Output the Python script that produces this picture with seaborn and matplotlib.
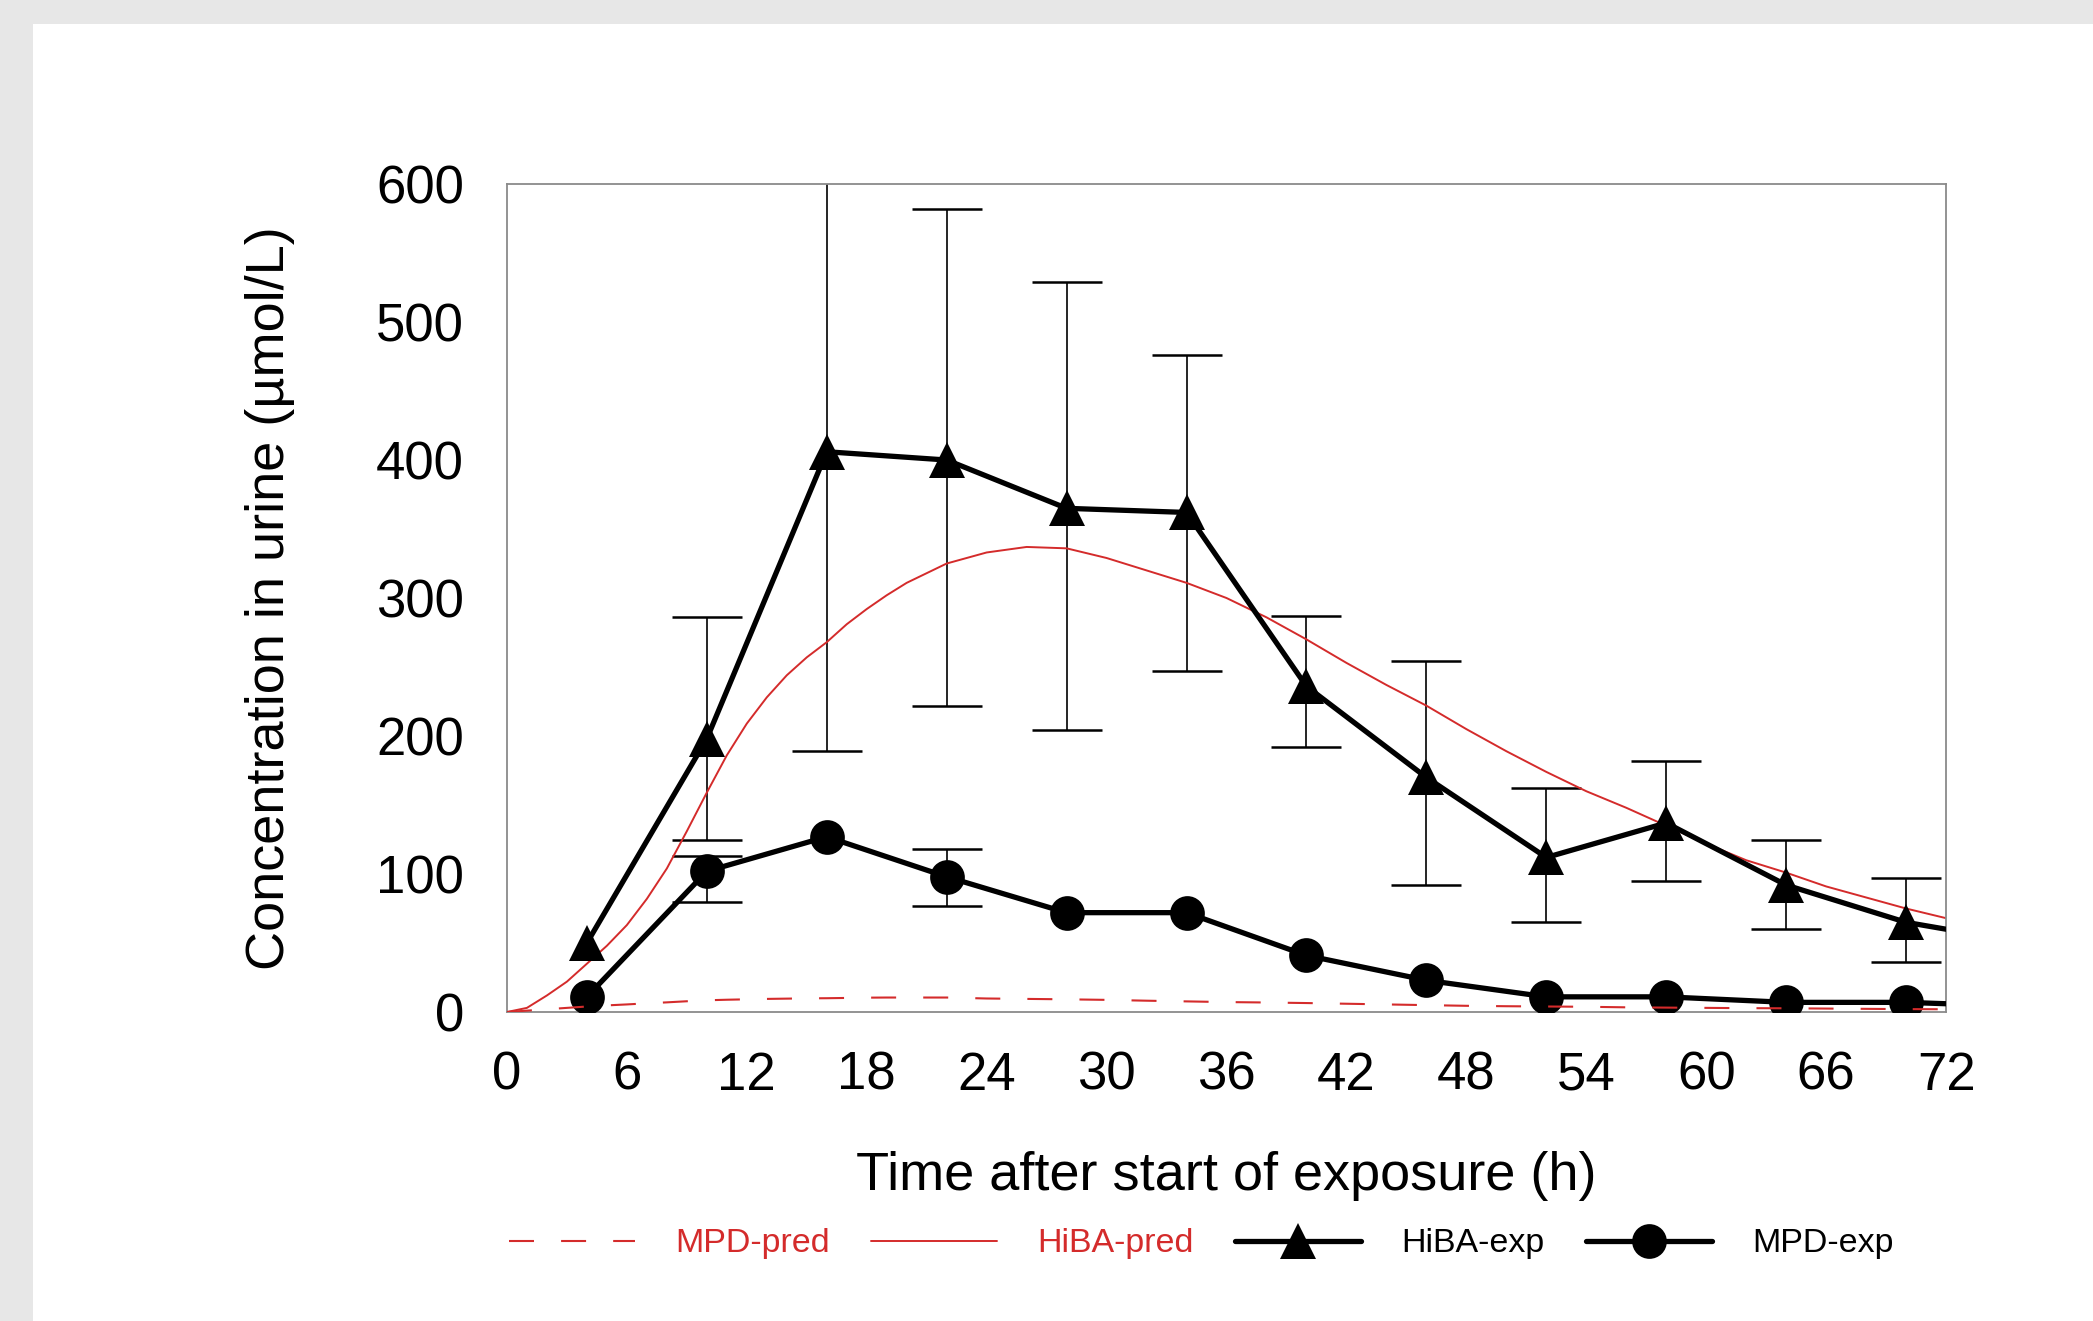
import numpy as np
import pandas as pd
import matplotlib.pyplot as plt
import seaborn as sns
from matplotlib.patches import Rectangle

# tempos de coleta (h) e concentracoes medidas na urina
tempo_exp = [4, 10, 16, 22, 28, 34, 40, 46, 52, 58, 64, 70]
hiba_exp = [50, 198, 406, 400, 365, 362, 236, 170, 112, 137, 92, 65]
mpd_exp = [11, 102, 127, 98, 72, 72, 41, 23, 11, 11, 7, 7]

# a linha continua ate o fim do eixo (72 h)
tempo_fim = [70, 72]
hiba_fim = [65, 60]
mpd_fim = [7, 6]

# limites das barras de erro (superior / inferior)
tempo_err_hiba = [10, 16, 22, 28, 34, 40, 46, 52, 58, 64, 70]
hiba_sup = [286, 623, 582, 529, 476, 287, 254, 162, 182, 125, 97]
hiba_inf = [125, 189, 222, 204, 247, 192, 92, 65, 95, 60, 36]

tempo_err_mpd = [10, 22]
mpd_sup = [113, 118]
mpd_inf = [80, 77]

# curvas preditas pelo modelo
tempo_pred = [0, 1, 2, 3, 4, 5, 6, 7, 8, 9, 10, 11, 12, 13, 14, 15, 16, 17, 18, 19, 20, 22, 24, 26, 28,
              30, 32, 34, 36, 38, 40, 42, 44, 46, 48, 50, 52, 54, 56, 58, 60, 62, 64, 66, 68, 70, 72]
hiba_pred = [0, 3, 12, 22, 35, 48, 63, 82, 104, 131, 159, 186, 209, 228, 244, 257, 268, 281, 292, 302,
             311, 325, 333, 337, 336, 329, 320, 311, 300, 286, 270, 253, 237, 222, 205, 189, 174, 160,
             148, 135, 122, 110, 101, 91, 83, 75, 68]
mpd_pred = [0, 1, 2, 3, 4, 4.8, 5.5, 6.3, 7, 7.8, 8.5, 8.9, 9.2, 9.5, 9.7, 9.9, 10, 10.2, 10.4, 10.5,
            10.5, 10.5, 9.8, 9.5, 9.2, 8.8, 8.2, 7.7, 7.2, 6.9, 6.5, 6, 5.5, 5, 4.5, 4.2, 4, 3.8, 3.4,
            3.2, 3, 2.8, 2.7, 2.5, 2.3, 2.1, 2]

xticks = list(range(0, 73, 6))
yticks = list(range(0, 601, 100))

vermelho = '#d42b2b'

sns.set_theme(style="white")
plt.rcParams['font.family'] = ['Liberation Sans', 'DejaVu Sans']
plt.rcParams['text.color'] = 'black'
plt.rcParams['axes.labelcolor'] = 'black'

fig = plt.figure(figsize=(20.93, 13.21), dpi=100, facecolor='#e7e7e7')
fundo = Rectangle((33 / 2093, 0), 1, 1 - 24 / 1321, transform=fig.transFigure,
                  facecolor='white', edgecolor='none', zorder=-10)
fig.add_artist(fundo)
ax = fig.add_axes([0.2422, 0.2339, 0.6876, 0.6268])
ax.set_facecolor('white')

df_pred = pd.DataFrame({'t': tempo_pred, 'hiba': hiba_pred, 'mpd': mpd_pred})

# curvas do modelo
sns.lineplot(data=df_pred, x='t', y='mpd', ax=ax, color=vermelho, linewidth=1.5,
             linestyle=(0, (12, 13)), label='MPD-pred', zorder=5)
sns.lineplot(data=df_pred, x='t', y='hiba', ax=ax, color=vermelho, linewidth=1.4,
             label='HiBA-pred', zorder=2)

# barras de erro
hiba_med = np.array(hiba_exp[1:])
ax.errorbar(tempo_err_hiba, hiba_med,
            yerr=[hiba_med - np.array(hiba_inf), np.array(hiba_sup) - hiba_med],
            fmt='none', ecolor='black', elinewidth=1.2, capsize=25, capthick=1.8, zorder=1)
mpd_med = np.array([mpd_exp[1], mpd_exp[3]])
ax.errorbar(tempo_err_mpd, mpd_med,
            yerr=[mpd_med - np.array(mpd_inf), np.array(mpd_sup) - mpd_med],
            fmt='none', ecolor='black', elinewidth=1.2, capsize=25, capthick=1.8, zorder=1)

# dados experimentais
sns.lineplot(x=tempo_exp, y=hiba_exp, ax=ax, color='black', linewidth=3.8, marker='^',
             markersize=26, markeredgewidth=0, label='HiBA-exp', zorder=3)
sns.lineplot(x=tempo_exp, y=mpd_exp, ax=ax, color='black', linewidth=3.8, marker='o',
             markersize=25, markeredgewidth=0, label='MPD-exp', zorder=3)
sns.lineplot(x=tempo_fim, y=hiba_fim, ax=ax, color='black', linewidth=3.8, zorder=3)
sns.lineplot(x=tempo_fim, y=mpd_fim, ax=ax, color='black', linewidth=3.8, zorder=3)

ax.set_xlim(0, 72)
ax.set_ylim(0, 600)
ax.set_xticks(xticks)
ax.set_yticks(yticks)

for s in ax.spines.values():
    s.set_color('#8a8a8a')
    s.set_linewidth(1.3)

ax.tick_params(axis='both', direction='in', length=16, width=1, color='#555555', labelsize=38,
               labelcolor='black')
ax.tick_params(axis='x', pad=28)
ax.tick_params(axis='y', pad=31)

ax.set_xlabel('Time after start of exposure (h)', fontsize=39, color='black')
ax.set_ylabel('Concentration in urine (µmol/L)', fontsize=39, color='black')
ax.xaxis.set_label_coords(0.5, -0.168)
ax.yaxis.set_label_coords(-0.147, 0.5)

handles, labels = ax.get_legend_handles_labels()
ordem = ['MPD-pred', 'HiBA-pred', 'HiBA-exp', 'MPD-exp']
hs = [handles[labels.index(l)] for l in ordem]
leg = ax.legend(hs, ordem, loc='center', bbox_to_anchor=(0.574, 0.0583),
                bbox_transform=fig.transFigure, ncol=4, frameon=False, fontsize=24.5,
                handlelength=3.7, handletextpad=1.2, columnspacing=1.2,
                labelcolor=[vermelho, vermelho, 'black', 'black'])

fig.savefig('out.png', dpi=100, facecolor=fig.get_facecolor())
